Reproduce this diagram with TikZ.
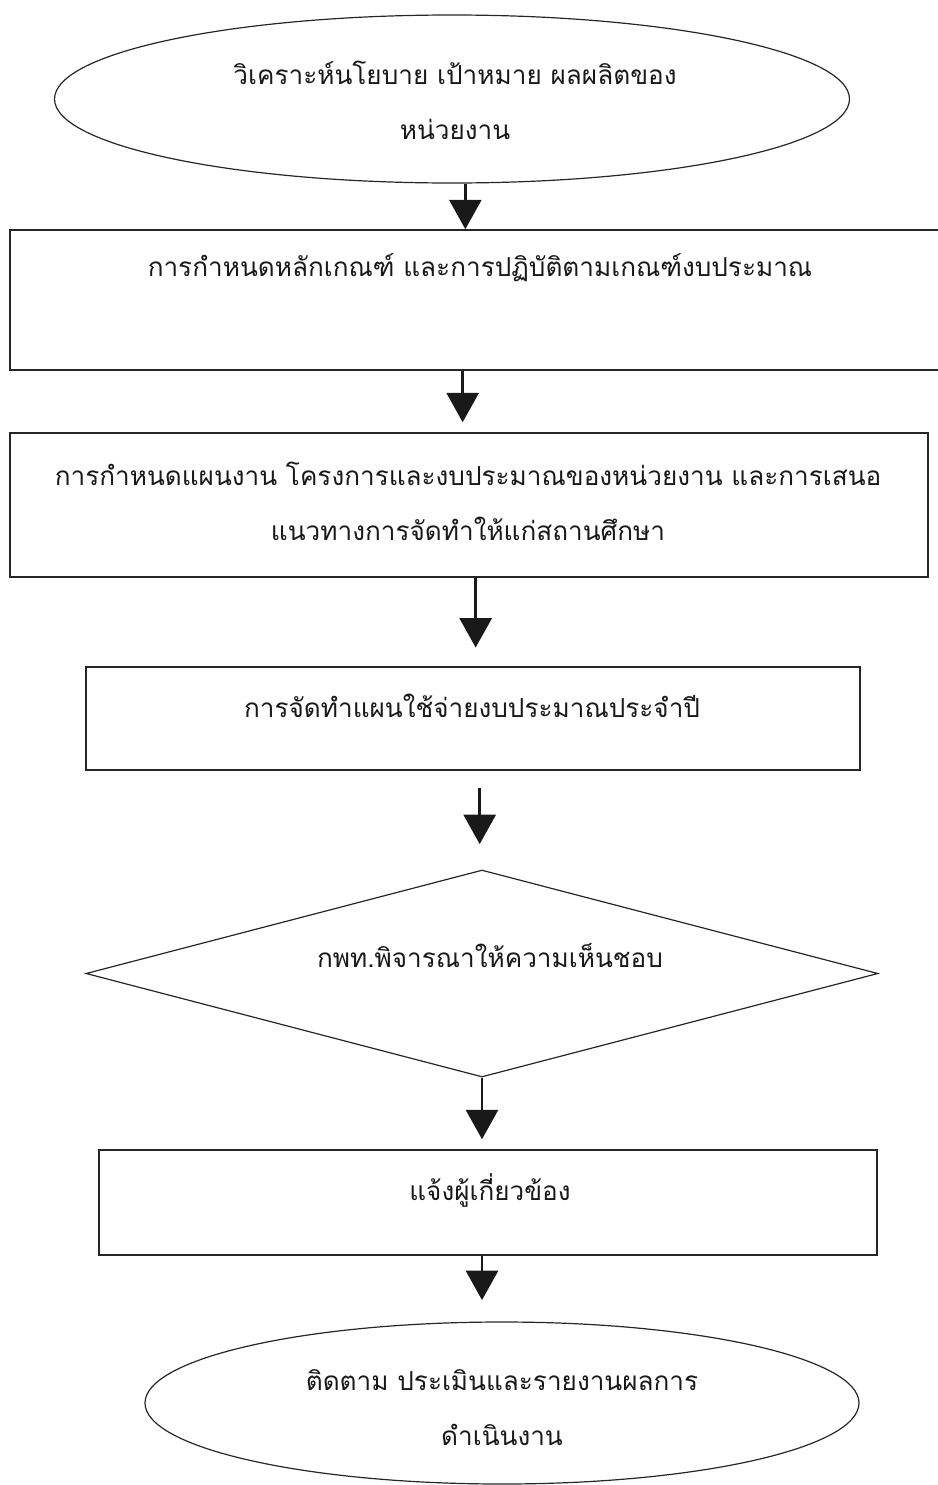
\documentclass[tikz,border=0pt]{standalone}
\usepackage{fontspec}
\newfontfamily\thaifont[Script=Thai]{Loma}
\usetikzlibrary{shapes.geometric,arrows.meta}

\tikzset{
  boxnode/.style={draw=black!85, line width=1.2pt, rectangle, inner sep=0pt},
  ovalnode/.style={draw=black!85, line width=0.9pt, ellipse, inner sep=0pt},
  decidenode/.style={draw=black!85, line width=0.9pt, diamond, inner sep=0pt},
  thaitext/.style={inner sep=0.75pt, align=center, text=black!90, font=\thaifont\fontsize{19.6}{41.25}\selectfont},
  flow/.style={line width=2pt, black!90, -{Triangle[width=24pt,length=22pt]}}
}

\begin{document}
\begin{tikzpicture}[x=0.75pt,y=-0.75pt]
\useasboundingbox (0,0) rectangle (938,1485);

%Shape: Ellipse [start]
\node [ovalnode, minimum width=596.25pt, minimum height=126pt] (b1) at (452,99) {};
%Shape: Rectangle
\node [boxnode, minimum width=705pt, minimum height=105pt] (b2) at (480,300) {};
%Shape: Rectangle
\node [boxnode, minimum width=688.5pt, minimum height=108pt] (b3) at (469,505) {};
%Shape: Rectangle
\node [boxnode, minimum width=580.5pt, minimum height=77.25pt] (b4) at (473,718.5) {};
%Shape: Diamond
\node [decidenode, aspect=3.83, minimum width=594pt, minimum height=155.25pt] (b5) at (482,973.5) {};
%Shape: Rectangle
\node [boxnode, minimum width=583.5pt, minimum height=78.75pt] (b6) at (488,1202.5) {};
%Shape: Ellipse [end]
\node [ovalnode, minimum width=535.5pt, minimum height=121.5pt] (b7) at (502,1403) {};

%Straight Lines
\draw [flow] ([xshift=10pt]b1.south) -- ([xshift=10pt]b1.south |- b2.north);
\draw [flow, shorten >=7.5pt] ([xshift=-13pt]b2.south) -- ([xshift=-13pt]b2.south |- b3.north);
\draw [flow, shorten >=14pt] ([xshift=5pt]b3.south) -- ([xshift=5pt]b3.south |- b4.north);
\draw [flow, shorten <=13pt, shorten >=19pt] ([xshift=5pt]b4.south) -- ([xshift=5pt]b4.south |- b5.north);
\draw [flow, shorten >=7.5pt] (b5.south) -- (b5.south |- b6.north);
\draw [flow, shorten >=16pt] ([xshift=-4.5pt]b6.south) -- ([xshift=-4.5pt]b6.south |- b7.north);

% Text Node
\node [thaitext] (t1) at (455,100) {วิเคราะห์นโยบาย เป้าหมาย ผลผลิตของ\\หน่วยงาน};
% Text Node
\node [thaitext] (t2) at (480,268) {การกำหนดหลักเกณฑ์ และการปฏิบัติตามเกณฑ์งบประมาณ};
% Text Node
\node [thaitext] (t3) at (468,501) {การกำหนดแผนงาน โครงการและงบประมาณของหน่วยงาน และการเสนอ\\แนวทางการจัดทำให้แก่สถานศึกษา};
% Text Node
\node [thaitext] (t4) at (472,706) {การจัดทำแผนใช้จ่ายงบประมาณประจำปี};
% Text Node
\node [thaitext] (t5) at (490,955) {กพท.พิจารณาให้ความเห็นชอบ};
% Text Node
\node [thaitext] (t6) at (490,1190) {แจ้งผู้เกี่ยวข้อง};
% Text Node
\node [thaitext] (t7) at (502,1408) {ติดตาม ประเมินและรายงานผลการ\\ดำเนินงาน};

\end{tikzpicture}
\end{document}
